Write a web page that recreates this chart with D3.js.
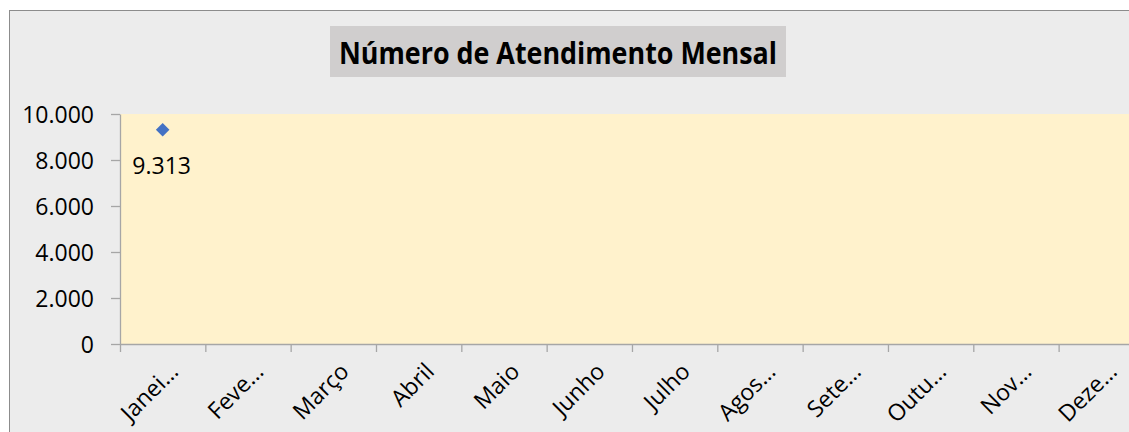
<!DOCTYPE html>
<html lang="pt">
<head>
<meta charset="utf-8">
<script src="https://cdn.jsdelivr.net/npm/d3@7"></script>
<style>
  html, body { margin: 0; padding: 0; background: #ffffff; overflow: hidden; width: 100%; height: 100%; }
  svg { display: block; position: fixed; left: 0; top: 0; }
  text { font-family: "Open Sans", "DejaVu Sans", sans-serif; }
</style>
</head>
<body>
<script>
// Dados do gráfico
const categories = ["Janeiro", "Fevereiro", "Março", "Abril", "Maio", "Junho",
                    "Julho", "Agosto", "Setembro", "Outubro", "Novembro", "Dezembro"]
const tickLabels = ["Janei…", "Feve…", "Março", "Abril", "Maio", "Junho",
                    "Julho", "Agos…", "Sete…", "Outu…", "Nov…", "Deze…"]
const atendimentos = [9313, null, null, null, null, null, null, null, null, null, null, null]
const yTicks = [0, 2000, 4000, 6000, 8000, 10000]
const title = "Número de Atendimento Mensal"

const w = 1129
const h = 432
// plot area (fica cortada à direita, como na imagem)
const plot = { left: 120, top: 114, bottom: 344, bandWidth: 85.33 }
plot.right = plot.left + plot.bandWidth * categories.length

// separador de milhar com ponto
const ptBR = d3.formatLocale({ decimal: ",", thousands: ".", grouping: [3], currency: ["R$", ""] })
const fmt = ptBR.format(",d")

const svg = d3.select("body").append("svg")
    .attr("width", w)
    .attr("height", h)

// fundo do gráfico (borda direita e de baixo ficam fora da janela)
svg.append("rect")
    .attr("x", 9.5).attr("y", 10.5)
    .attr("width", w + 40).attr("height", h + 20)
    .attr("fill", "#ececec")
    .attr("stroke", "#8c8c8c")

// titulo
svg.append("rect")
    .attr("x", 330).attr("y", 26)
    .attr("width", 456).attr("height", 51)
    .attr("fill", "#d0cece")
svg.append("text")
    .attr("x", 558).attr("y", 64)
    .attr("text-anchor", "middle")
    .attr("font-size", 30)
    .attr("font-weight", "bold")
    .attr("textLength", 438)
    .attr("lengthAdjust", "spacingAndGlyphs")
    .attr("fill", "#000")
    .text(title)

// escalas
const x = d3.scaleBand()
    .domain(categories)
    .range([plot.left, plot.right])
const y = d3.scaleLinear()
    .domain([0, 10000])
    .range([plot.bottom, plot.top])

svg.append("rect")
    .attr("x", plot.left).attr("y", plot.top)
    .attr("width", plot.right - plot.left)
    .attr("height", plot.bottom - plot.top)
    .attr("fill", "#fff2cc")

// eixo Y
const yAxis = svg.append("g")
    .attr("transform", "translate(" + plot.left + ",0)")
    .call(d3.axisLeft(y).tickValues(yTicks).tickFormat(fmt)
          .tickSize(9).tickSizeOuter(0).tickPadding(17))
yAxis.selectAll("line, path").attr("stroke", "#a6a6a6").attr("stroke-width", 1.3)
yAxis.selectAll("text").attr("font-size", 23).attr("fill", "#000")
    .attr("dy", "0.36em")

// eixo X: marcas nas divisões das categorias
const xEdges = d3.scaleLinear().domain([0, categories.length]).range([plot.left, plot.right])
const xAxis = svg.append("g")
    .attr("transform", "translate(0," + plot.bottom + ")")
    .call(d3.axisBottom(xEdges).tickValues(d3.range(categories.length + 1))
          .tickFormat("").tickSize(8).tickSizeOuter(0))
xAxis.selectAll("line, path").attr("stroke", "#a6a6a6").attr("stroke-width", 1.3)

// rótulos das categorias, rodados
svg.append("g").selectAll("text")
    .data(categories)
    .enter()
    .append("text")
    .attr("transform", function(d) {
        return "translate(" + (x(d) + x.bandwidth() / 2 + 17) + "," + (plot.bottom + 29) + ") rotate(-45)"
    })
    .attr("text-anchor", "end")
    .attr("font-size", 23)
    .attr("fill", "#000")
    .text(function(d, i) { return tickLabels[i] })

// pontos
const pts = categories.map(function(c, i) { return { cat: c, value: atendimentos[i] } })
    .filter(function(d) { return d.value != null })

svg.append("g").selectAll("path")
    .data(pts)
    .enter()
    .append("path")
    .attr("d", d3.symbol().type(d3.symbolSquare).size(92))
    .attr("transform", function(d) {
        return "translate(" + (x(d.cat) + x.bandwidth() / 2) + "," + y(d.value) + ") rotate(45)"
    })
    .attr("fill", "#4472c4")

svg.append("g").selectAll("text")
    .data(pts)
    .enter()
    .append("text")
    .attr("x", function(d) { return x(d.cat) + x.bandwidth() / 2 - 1 })
    .attr("y", function(d) { return y(d.value) + 44 })
    .attr("text-anchor", "middle")
    .attr("font-size", 23)
    .attr("fill", "#000")
    .text(function(d) { return fmt(d.value) })
</script>
</body>
</html>
